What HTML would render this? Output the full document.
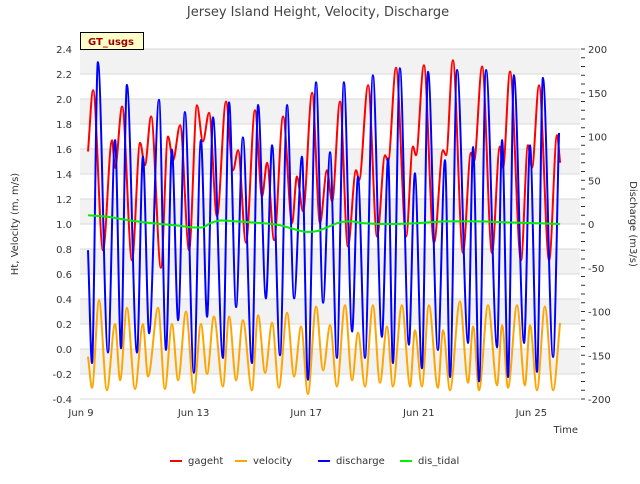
<!DOCTYPE html>
<html><head><meta charset="utf-8"><style>
body{margin:0;background:#fff;font-family:"DejaVu Sans","Liberation Sans",sans-serif}
svg text{font-family:"DejaVu Sans","Liberation Sans",sans-serif}
</style></head><body>
<svg id="chart" width="640" height="480" viewBox="0 0 640 480" xmlns="http://www.w3.org/2000/svg">
<g id="bg"></g>
<g id="grid"></g>
<g id="series"></g>
<g id="axes"></g>
<text x="318" y="16" text-anchor="middle" font-size="13" fill="#444">Jersey Island Height, Velocity, Discharge</text>
<text transform="translate(18,224) rotate(-90)" text-anchor="middle" font-size="10" fill="#333">Ht, Velocity (m, m/s)</text>
<text transform="translate(630,224) rotate(90)" text-anchor="middle" font-size="10" fill="#333">Discharge (m3/s)</text>
<text x="578" y="433" text-anchor="end" font-size="10" fill="#333">Time</text>
<g>
<rect x="80.5" y="32.5" width="63" height="17" fill="#ffffc8" stroke="#000" stroke-width="1"/>
<text x="111" y="45" text-anchor="middle" font-size="10" font-weight="bold" fill="#990000">GT_usgs</text>
</g>
<g id="legend"></g>
</svg>
<script>
const tickLeft=["2.4","2.2","2.0","1.8","1.6","1.4","1.2","1.0","0.8","0.6","0.4","0.2","0.0","-0.2","-0.4"];
const tickLeftVals=[2.4,2.2,2.0,1.8,1.6,1.4,1.2,1.0,0.8,0.6,0.4,0.2,0.0,-0.2,-0.4];
const tickRightVals=[200,150,100,50,0,-50,-100,-150,-200];
const xTickDays=[0,4,8,12,16];
const xTickLabels=["Jun 9","Jun 13","Jun 17","Jun 21","Jun 25"];
const gagehtT=[0.25,0.43,0.78,1.10,1.21,1.46,1.81,2.10,2.27,2.49,2.84,3.09,3.27,3.52,3.84,4.12,4.33,4.55,4.83,5.15,5.40,5.58,5.86,6.18,6.43,6.61,6.86,7.18,7.50,7.67,7.89,8.21,8.49,8.74,8.92,9.20,9.48,9.77,9.88,10.20,10.52,10.80,10.91,11.19,11.55,11.79,11.90,12.18,12.54,12.86,12.97,13.21,13.57,13.85,13.96,14.25,14.60,14.88,14.99,15.24,15.63,15.88,16.02,16.27,16.63,16.91,17.02];
const gagehtV=[1.58,2.07,0.79,1.67,1.45,1.94,0.71,1.65,1.47,1.86,0.65,1.70,1.51,1.79,0.79,1.95,1.66,1.89,1.06,1.98,1.43,1.59,0.85,1.91,1.22,1.49,0.87,1.86,1.01,1.38,1.10,2.05,1.01,1.43,1.18,1.98,0.82,1.43,1.35,2.11,0.90,1.55,1.50,2.25,0.90,1.62,1.55,2.27,0.85,1.59,1.55,2.31,0.77,1.57,1.50,2.26,0.77,1.62,1.45,2.22,0.71,1.63,1.45,2.11,0.71,1.71,1.49];
const velocityT=[0.25,0.39,0.64,0.92,1.21,1.39,1.63,1.92,2.20,2.38,2.74,2.98,3.23,3.45,3.73,4.01,4.26,4.48,4.72,5.04,5.26,5.51,5.75,6.07,6.29,6.54,6.79,7.03,7.32,7.57,7.82,8.06,8.35,8.60,8.85,9.09,9.38,9.63,9.84,10.09,10.37,10.62,10.87,11.08,11.40,11.69,11.86,12.11,12.36,12.68,12.86,13.11,13.46,13.75,13.93,14.14,14.46,14.78,14.96,15.17,15.49,15.77,15.95,16.20,16.48,16.77,17.02];
const velocityV=[-0.06,-0.31,0.39,-0.33,0.20,-0.25,0.33,-0.32,0.20,-0.22,0.33,-0.32,0.20,-0.25,0.30,-0.35,0.20,-0.20,0.26,-0.30,0.26,-0.25,0.23,-0.33,0.27,-0.19,0.21,-0.31,0.29,-0.22,0.18,-0.36,0.34,-0.17,0.19,-0.30,0.35,-0.25,0.13,-0.30,0.35,-0.27,0.18,-0.30,0.35,-0.30,0.15,-0.30,0.35,-0.31,0.15,-0.33,0.38,-0.27,0.18,-0.33,0.35,-0.29,0.19,-0.31,0.35,-0.29,0.19,-0.33,0.34,-0.33,0.21];
const dischargeT=[0.25,0.39,0.60,0.96,1.21,1.42,1.63,1.99,2.20,2.42,2.77,3.02,3.23,3.45,3.69,4.01,4.26,4.48,4.69,5.04,5.26,5.51,5.75,6.07,6.29,6.57,6.79,7.07,7.32,7.57,7.85,8.06,8.35,8.60,8.85,9.09,9.34,9.63,9.84,10.09,10.37,10.69,10.91,11.08,11.33,11.65,11.86,12.11,12.33,12.68,12.93,13.11,13.36,13.75,13.93,14.14,14.39,14.78,14.96,15.17,15.38,15.74,15.95,16.20,16.41,16.77,16.98];
const dischargeV=[-30,-159,185,-147,96,-142,159,-147,77,-125,142,-144,85,-110,128,-170,96,-106,122,-153,139,-95,99,-159,136,-85,90,-150,136,-85,77,-178,162,-90,82,-153,162,-123,54,-153,170,-129,75,-159,178,-138,58,-165,174,-144,73,-175,176,-136,88,-180,176,-141,96,-175,170,-136,90,-169,167,-152,104];
const tidalT=[0.25,1.0,1.75,2.5,3.5,4.0,4.3,4.6,5.0,5.5,6.0,7.0,7.7,8.0,8.4,8.8,9.2,9.6,10.0,11.0,12.0,13.0,14.0,15.0,16.0,17.02];
const tidalV=[10,8,4,1,-2,-4,-4,1,4,3,2,-1,-7,-9,-8,-3,2,3,1,0,1,3,3,2,1,0];

const NS="http://www.w3.org/2000/svg";
const L=80,R=580,T=49,B=399;
const xS=d=>81+d*28.15;
const yL=v=>T+(2.4-v)/2.8*(B-T);
const yR=v=>T+(200-v)/400*(B-T);
function mk(tag,attrs,parent){const e=document.createElementNS(NS,tag);for(const k in attrs)e.setAttribute(k,attrs[k]);parent.appendChild(e);return e;}
const bg=document.getElementById('bg'),grid=document.getElementById('grid'),ser=document.getElementById('series'),axes=document.getElementById('axes'),leg=document.getElementById('legend');
mk('rect',{x:L,y:T,width:R-L,height:B-T,fill:'#fff'},bg);
for(let i=0;i<tickLeftVals.length-1;i++){
  if(i%2===0){const r=mk('rect',{x:L,y:yL(tickLeftVals[i]),width:R-L,height:yL(tickLeftVals[i+1])-yL(tickLeftVals[i]),fill:'#f2f2f2'},bg);
  
  }
}
tickLeftVals.forEach((v,i)=>{
  const g=mk('line',{x1:L,x2:R,y1:yL(v),y2:yL(v),stroke:'#d9d9d9','stroke-width':1},grid);
  
  
  const t=mk('text',{x:L-8,y:yL(v)+4,'text-anchor':'end','font-size':10,fill:'#333'},axes);
  
  
  t.textContent=tickLeft[i];
});
tickRightVals.forEach(v=>{
  const t=mk('text',{x:R+8,y:yR(v)+4,'text-anchor':'start','font-size':10,fill:'#333'},axes);
  
  
  t.textContent=String(v);
});
for(let v=-200;v<=200;v+=10){
  const tk=mk('line',{x1:R+1,x2:R+5,y1:yR(v),y2:yR(v),stroke:'#333','stroke-width':1},axes);
  
  
}
xTickDays.forEach((d,i)=>{
  const t=mk('text',{x:xS(d),y:416,'text-anchor':'middle','font-size':10,fill:'#333'},axes);
  
  
  t.textContent=xTickLabels[i];
});
function mono(xs,ys){
  const n=xs.length,m=[],d=[];
  for(let i=0;i<n-1;i++)d.push((ys[i+1]-ys[i])/(xs[i+1]-xs[i]));
  for(let i=0;i<n;i++){
    if(i===0)m.push(d[0]);else if(i===n-1)m.push(d[n-2]);
    else m.push(d[i-1]*d[i]<=0?0:(d[i-1]+d[i])/2);
  }
  let p='M'+xs[0].toFixed(1)+','+ys[0].toFixed(1);
  for(let i=0;i<n-1;i++){const h=(xs[i+1]-xs[i])/3;
    p+='C'+(xs[i]+h).toFixed(1)+','+(ys[i]+m[i]*h).toFixed(1)+' '+(xs[i+1]-h).toFixed(1)+','+(ys[i+1]-m[i+1]*h).toFixed(1)+' '+xs[i+1].toFixed(1)+','+ys[i+1].toFixed(1);}
  return p;
}
function draw(ts,vs,ys,color,name){
  const p=mk('path',{d:mono(ts.map(xS),vs.map(ys)),fill:'none',stroke:color,'stroke-width':2,'stroke-linejoin':'round'},ser);
  
  
}
draw(gagehtT,gagehtV,yL,'#ff0000','gageht-line');
draw(velocityT,velocityV,yL,'#ffa500','velocity-line');
draw(dischargeT,dischargeV,yR,'#0000ff','discharge-line');
draw(tidalT,tidalV,yR,'#00ee00','dis-tidal-line');
const legNames=["gageht","velocity","discharge","dis_tidal"];
const legColors=["#ff0000","#ffa500","#0000ff","#00ee00"];
const legX=[170,235,318,400];
legNames.forEach((n,i)=>{
  const g=mk('g',{},leg);
  
  
  mk('line',{x1:legX[i],x2:legX[i]+12,y1:461,y2:461,stroke:legColors[i],'stroke-width':2},g);
  const t=mk('text',{x:legX[i]+18,y:464,'font-size':10,fill:'#333'},g);
  t.textContent=n;
});
</script>
</body></html>
